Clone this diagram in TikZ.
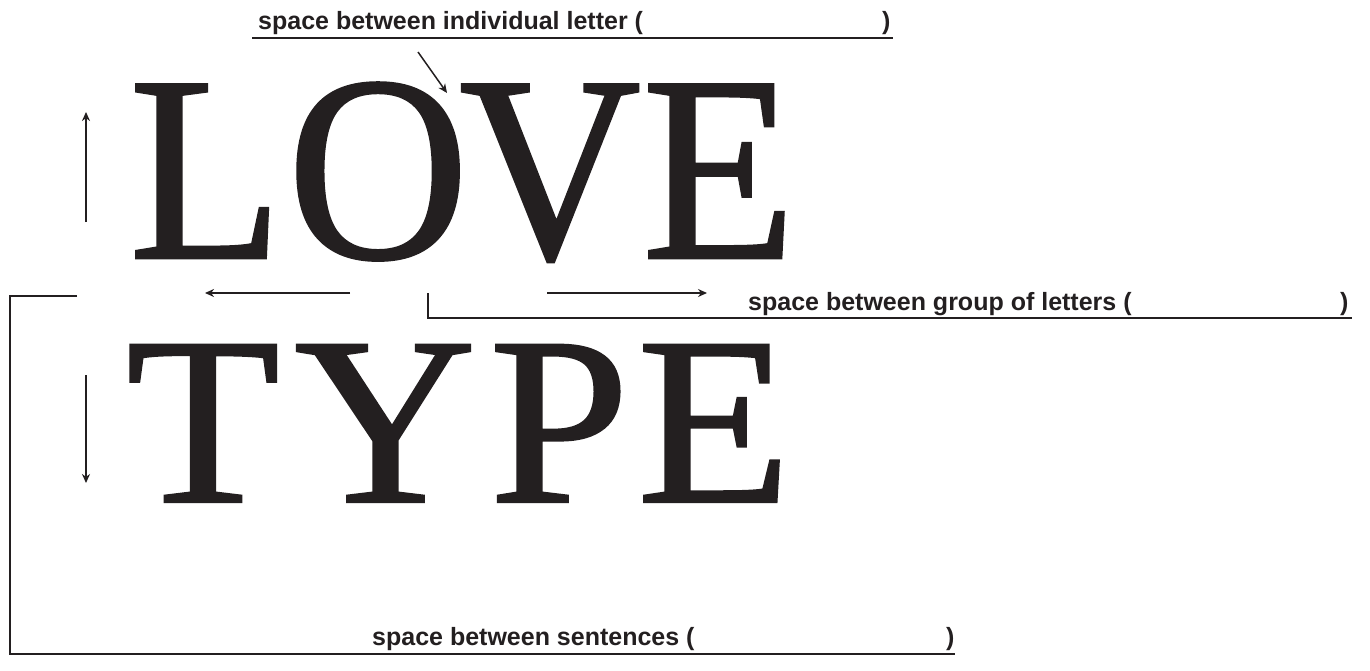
\documentclass[tikz,border=0pt]{standalone}
\usepackage{graphicx}
\usepackage{fontspec}
\setmainfont{Liberation Serif}
\newfontfamily\bigserif[FakeBold=1]{Liberation Serif}
\newfontfamily\lblfont{Liberation Sans}
\usetikzlibrary{arrows.meta}
\definecolor{ink}{HTML}{231F20}
\newcommand{\wA}[1]{\scalebox{0.95}[1]{#1}}
\newcommand{\wB}[1]{\scalebox{1.05}[1]{#1}}
\begin{document}
\begin{tikzpicture}[x=1pt,y=-1pt,
  bigA/.style={inner sep=0pt, anchor=base west, text=ink, font=\bigserif\fontsize{265}{265}\selectfont},
  bigB/.style={inner sep=0pt, anchor=base west, text=ink, font=\bigserif\fontsize{240}{240}\selectfont},
  lbl/.style={inner sep=0pt, anchor=base west, text=ink, font=\lblfont\bfseries\fontsize{25}{25}\selectfont},
  rule/.style={draw=ink, line width=1.6pt},
  arr/.style={draw=ink, line width=1.5pt, -{Stealth[length=9pt,width=8pt]}}]
\useasboundingbox (0,0) rectangle (1370,671);
% big words
\node[bigA] (L1) at (129,258) {\wA{L}};
\node[bigA] (O1) at (287,258) {\wA{O}};
\node[bigA] (V1) at (459,258) {\wA{V}};
\node[bigA] (E1) at (642,258) {\wA{E}};
\node[bigB] (T2) at (126,502) {\wB{T}};
\node[bigB] (Y2) at (294,502) {\wB{Y}};
\node[bigB] (P2) at (489,502) {\wB{P}};
\node[bigB] (E2) at (637,502) {\wB{E}};
% labels
\node[lbl] (t1) at (258,30) {space between individual letter (};
\node[lbl] (p1) at (882,30) {)};
\node[lbl] (t2) at (748,310) {space between group of letters (};
\node[lbl] (p2) at (1340,310) {)};
\node[lbl] (t3) at (372,645) {space between sentences (};
\node[lbl] (p3) at (946,645) {)};
% underline / brackets
\coordinate (u1a) at (252,38); \coordinate (u1b) at (893,38);
\draw[rule] (u1a) -- (u1b);
\coordinate (g1) at (428,293); \coordinate (g2) at (428,318); \coordinate (g3) at (1352,318);
\draw[rule] (g1) -- (g2) -- (g3);
\coordinate (s1) at (77,296); \coordinate (s2) at (10,296); \coordinate (s3) at (10,654); \coordinate (s4) at (955,654);
\draw[rule] (s1) -- (s2) -- (s3) -- (s4);
% arrows
\coordinate (a1s) at (418,52); \coordinate (a1e) at (447,93);
\draw[arr] (a1s) -- (a1e);
\coordinate (a2s) at (86,222); \coordinate (a2e) at (86,112);
\draw[arr] (a2s) -- (a2e);
\coordinate (a3s) at (86,375); \coordinate (a3e) at (86,483);
\draw[arr] (a3s) -- (a3e);
\coordinate (a4s) at (350,293); \coordinate (a4e) at (205,293);
\draw[arr] (a4s) -- (a4e);
\coordinate (a5s) at (547,293); \coordinate (a5e) at (707,293);
\draw[arr] (a5s) -- (a5e);
\end{tikzpicture}
\end{document}
